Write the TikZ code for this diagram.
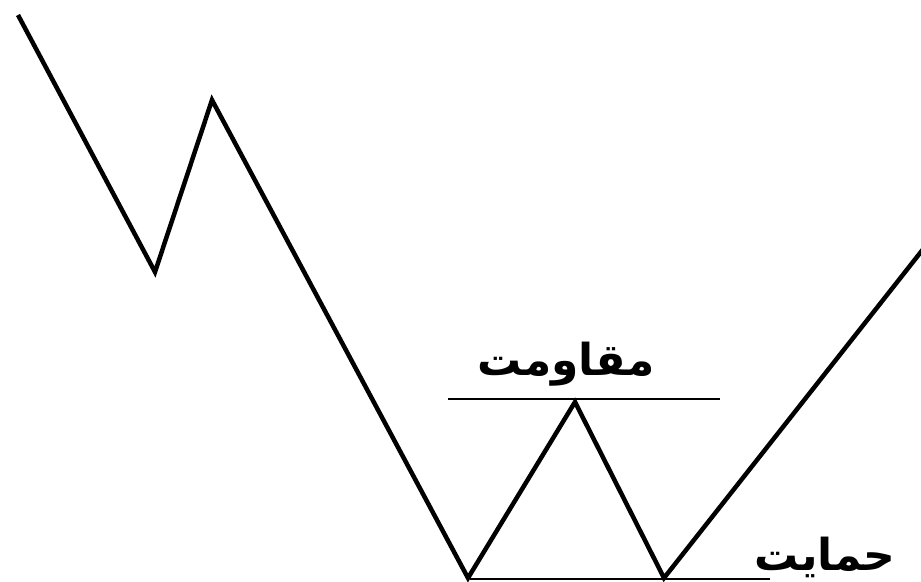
\documentclass[tikz,border=0pt]{standalone}
\usepackage{fontspec}
\TeXXeTstate=1
\newfontfamily\arabicfont[Script=Arabic]{DejaVu Sans}
\begin{document}
\begin{tikzpicture}[x=1pt,y=-1pt,
  price/.style={line width=4.5pt,line join=miter,line cap=butt},
  level/.style={line width=1.5pt},
  lbl/.style={font=\arabicfont\bfseries\fontsize{44}{48}\selectfont,inner sep=0pt}]
\useasboundingbox[fill=white] (0,0) rectangle (921,581);
\coordinate (p0) at (18,15);
\coordinate (p1) at (155,272);
\coordinate (p2) at (212,100);
\coordinate (p3) at (468,578);
\coordinate (p4) at (575,402);
\coordinate (p5) at (664,578);
\coordinate (p6) at (924,248);
\draw[price] (p0) -- (p1) -- (p2) -- (p3) -- (p4) -- (p5) -- (p6);
\coordinate (r0) at (448,399);
\coordinate (r1) at (720,399);
\draw[level] (r0) -- (r1);
\coordinate (s0) at (470,579);
\coordinate (s1) at (770,579);
\draw[level] (s0) -- (s1);
\node[lbl,anchor=base] (res) at (566,375) {\beginR مقاومت\endR};
\node[lbl,anchor=base] (sup) at (825,570) {\beginR حمایت\endR};
\end{tikzpicture}
\end{document}
